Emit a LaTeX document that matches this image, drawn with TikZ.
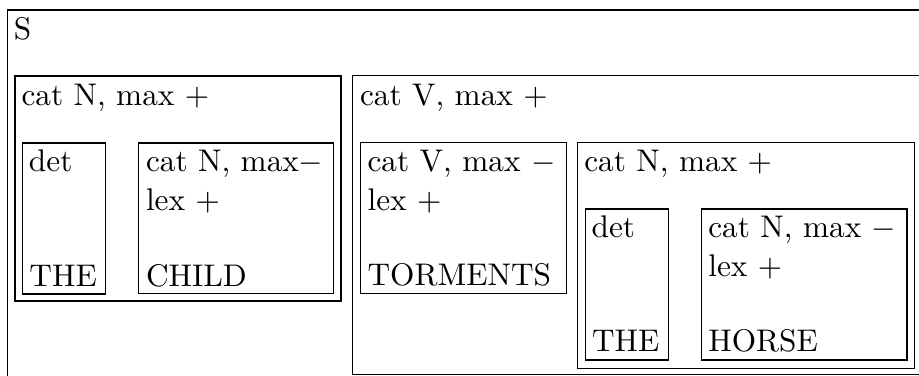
\documentclass[tikz,border=0pt]{standalone}
\begin{document}
\begin{tikzpicture}[x=0.3195pt,y=-0.3195pt,
  fbox/.style={draw=black,line width=0.4pt},
  lbl/.style={anchor=base west,inner sep=0pt,outer sep=0pt,font=\normalsize}]
\useasboundingbox (0,0) rectangle (919,376);
\clip (0,0) rectangle (919,376);
% boxes
\draw[fbox] (7.3,10) rectangle (940,395);
\draw[fbox] (15,76) rectangle (341,301);
\draw[fbox] (22.7,143) rectangle (105.7,294);
\draw[fbox] (138.7,143) rectangle (333.7,293.5);
\draw[fbox] (352.3,75.7) rectangle (935,374.5);
\draw[fbox] (360.7,142.7) rectangle (566.3,293.3);
\draw[fbox] (577.7,142.3) rectangle (914.3,368.3);
\draw[fbox] (585.7,209) rectangle (668.3,360);
\draw[fbox] (701.7,209) rectangle (907,360);
% texts
\node[lbl] (s) at (13.8,39.3) {S};
\node[lbl] (npl) at (21.5,106) {cat N, max $+$};
\node[lbl] (det1) at (29,171.7) {det};
\node[lbl] (the1) at (29.5,286.7) {THE};
\node[lbl] (nl1) at (146,171.7) {cat N, max$-$};
\node[lbl] (nl2) at (146,210.7) {lex $+$};
\node[lbl] (child) at (146,286.7) {CHILD};
\node[lbl] (vp) at (360,105.7) {cat V, max $+$};
\node[lbl] (v1) at (367.6,171.7) {cat V, max $-$};
\node[lbl] (v2) at (367.6,210.7) {lex $+$};
\node[lbl] (torm) at (367.6,285.7) {TORMENTS};
\node[lbl] (npr) at (584.3,171.7) {cat N, max $+$};
\node[lbl] (det2) at (591.6,237.3) {det};
\node[lbl] (the2) at (592,351.7) {THE};
\node[lbl] (nr1) at (708.3,237.3) {cat N, max $-$};
\node[lbl] (nr2) at (708.3,276.7) {lex $+$};
\node[lbl] (horse) at (708.3,351.7) {HORSE};
\end{tikzpicture}
\end{document}
